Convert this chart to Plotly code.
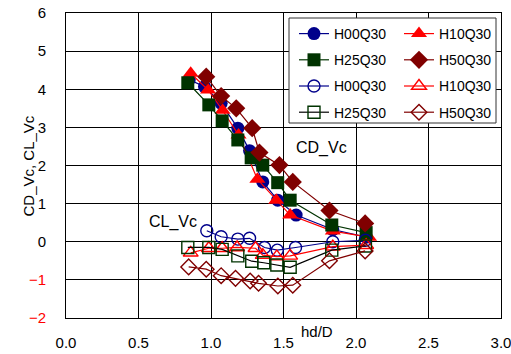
import plotly.graph_objects as go

# ---- data ----
# CD_Vc (filled markers)
cd_h00_x = [0.85, 0.955, 1.07, 1.185, 1.266, 1.357, 1.46, 1.587, 1.84, 2.07]
cd_h00_y = [4.25, 4.07, 3.63, 2.98, 2.39, 1.57, 1.09, 0.70, 0.32, 0.12]
cd_h10_x = [0.86, 0.98, 1.08, 1.19, 1.32, 1.45, 1.546, 1.84, 2.09]
cd_h10_y = [4.42, 3.98, 3.45, 2.80, 1.64, 1.09, 0.70, 0.28, 0.12]
cd_h25_x = [0.84, 0.985, 1.077, 1.185, 1.277, 1.357, 1.46, 1.546, 1.833, 2.07]
cd_h25_y = [4.17, 3.59, 3.17, 2.67, 2.20, 2.01, 1.55, 1.09, 0.44, 0.24]
cd_h50_x = [0.967, 1.07, 1.174, 1.284, 1.334, 1.472, 1.564, 1.817, 2.063]
cd_h50_y = [4.33, 3.82, 3.50, 2.98, 2.34, 2.01, 1.57, 0.82, 0.48]

# CL_Vc (open markers)
cl_h00_x = [0.971, 1.07, 1.185, 1.266, 1.369, 1.457, 1.583, 1.84, 2.065]
cl_h00_y = [0.29, 0.13, 0.07, 0.09, -0.15, -0.22, -0.15, 0.00, 0.04]
cl_h10_x = [0.86, 0.985, 1.077, 1.18, 1.307, 1.357, 1.454, 1.546, 1.84, 2.07]
cl_h10_y = [-0.29, -0.17, -0.17, -0.15, -0.17, -0.35, -0.39, -0.37, -0.13, -0.09]
cl_h25_x = [0.84, 0.985, 1.077, 1.185, 1.281, 1.364, 1.454, 1.546, 1.833, 2.065]
cl_h25_y = [-0.15, -0.15, -0.20, -0.37, -0.51, -0.55, -0.61, -0.67, -0.22, -0.11]
cl_h50_x = [0.846, 0.967, 1.07, 1.169, 1.27, 1.328, 1.461, 1.564, 1.817, 2.063]
cl_h50_y = [-0.66, -0.72, -0.89, -0.96, -1.03, -1.09, -1.16, -1.14, -0.50, -0.24]

x_ticks = [0, 0.5, 1.0, 1.5, 2.0, 2.5, 3.0]
x_ticktext = ["0.0", "0.5", "1.0", "1.5", "2.0", "2.5", "3.0"]
y_ticks = [-2, -1, 0, 1, 2, 3, 4, 5, 6]
y_ticktext = ['<span style="color:#ff0000">\u22122</span>', '<span style="color:#ff0000">\u22121</span>',
              "0", "1", "2", "3", "4", "5", "6"]

NAVY = "#00008b"
RED = "#ff0000"
GREEN = "#003300"
DRED = "#800000"

FONT = "Liberation Sans, Arial, sans-serif"

fig = go.Figure()

def add(x, y, name, color, symbol, size, legend, group, linecolor=None, open_=False):
    marker = dict(symbol=symbol, size=size, color=color)
    if open_:
        marker["line"] = dict(color=color, width=1.4)
    else:
        marker["line"] = dict(color=color, width=0)
    fig.add_trace(go.Scatter(
        x=x, y=y, name=name, mode="lines+markers",
        line=dict(color=linecolor or color, width=1.2),
        marker=marker, legend=legend, legendgroup=group))

add(cd_h00_x, cd_h00_y, "H00Q30", NAVY, "circle", 13, "legend", "a1")
add(cd_h10_x, cd_h10_y, "H10Q30", RED, "triangle-up", 14, "legend2", "b1")
add(cd_h25_x, cd_h25_y, "H25Q30", GREEN, "square", 13, "legend", "a2")
add(cd_h50_x, cd_h50_y, "H50Q30", DRED, "diamond", 14, "legend2", "b2")
add(cl_h00_x, cl_h00_y, "H00Q30", NAVY, "circle-open", 12, "legend", "a3", open_=True)
add(cl_h10_x, cl_h10_y, "H10Q30", RED, "triangle-up-open", 13, "legend2", "b3", open_=True)
add(cl_h25_x, cl_h25_y, "H25Q30", GREEN, "square-open", 12, "legend", "a4", linecolor="#000000", open_=True)
add(cl_h50_x, cl_h50_y, "H50Q30", DRED, "diamond-open", 12, "legend2", "b4", open_=True)

L, R, T, B = 66, 10, 13, 36
W, H = 511, 354
pw, ph = W - L - R, H - T - B

def px_x(p):
    return (p - L) / pw

def px_y(p):
    return (H - B - p) / ph

legend_common = dict(bgcolor="rgba(0,0,0,0)", borderwidth=0,
                     font=dict(family=FONT, size=14, color="#000"),
                     tracegroupgap=5, xanchor="left", yanchor="top",
                     itemclick=False)

fig.update_layout(
    width=W, height=H,
    margin=dict(l=L, r=R, t=T, b=B, autoexpand=False),
    paper_bgcolor="white", plot_bgcolor="white",
    font=dict(family=FONT, size=14, color="#000"),
    legend=dict(x=px_x(294), y=px_y(18), **legend_common),
    legend2=dict(x=px_x(399), y=px_y(18), **legend_common),
    xaxis=dict(range=[0, 3], tickvals=x_ticks, ticktext=x_ticktext,
               showgrid=True, gridcolor="#000", gridwidth=1,
               showline=True, linecolor="#000", linewidth=1, mirror=True,
               zeroline=False, ticks="", ticklabelstandoff=11, automargin=False,
               ticklabeloverflow="allow",
               tickfont=dict(family=FONT, size=15)),
    yaxis=dict(range=[-2, 6], tickvals=y_ticks, ticktext=y_ticktext,
               showgrid=True, gridcolor="#000", gridwidth=1,
               showline=True, linecolor="#000", linewidth=1, mirror=True,
               zeroline=False, ticks="", ticklabelstandoff=16, automargin=False,
               ticklabeloverflow="allow",
               tickfont=dict(family=FONT, size=15)),
    shapes=[dict(type="rect", xref="paper", yref="paper",
                 x0=px_x(289), x1=px_x(496), y0=px_y(123), y1=px_y(18),
                 line=dict(color="#333", width=1), fillcolor="white", layer="above")],
    annotations=[
        dict(text="CD_Vc", x=1.76, y=2.47, xref="x", yref="y", showarrow=False,
             font=dict(family=FONT, size=16)),
        dict(text="CL_Vc", x=0.74, y=0.52, xref="x", yref="y", showarrow=False,
             font=dict(family=FONT, size=16)),
        dict(text="hd/D", x=px_x(317), y=px_y(342), xref="paper", yref="paper",
             showarrow=False, font=dict(family=FONT, size=15)),
        dict(text="CD_Vc, CL_Vc", x=px_x(17), y=px_y(166), xref="paper", yref="paper",
             showarrow=False, textangle=-90, font=dict(family=FONT, size=15)),
    ],
    showlegend=True,
)

fig.write_html("out.html", config={"displayModeBar": False},
               post_script="document.body.style.margin='0';document.body.style.overflow='hidden';")
